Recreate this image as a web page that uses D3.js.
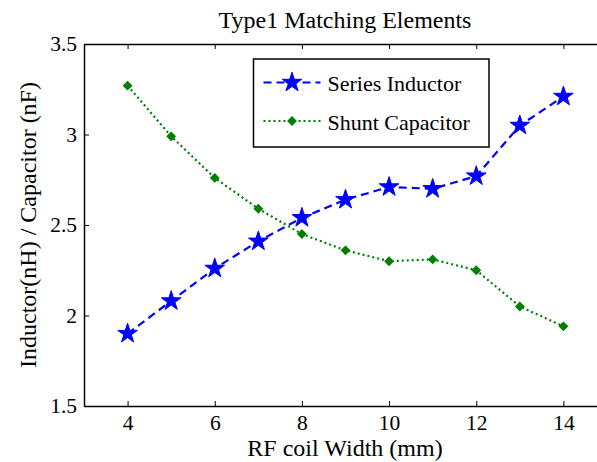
<!DOCTYPE html>
<html>
<head>
<meta charset="utf-8">
<script src="https://cdn.jsdelivr.net/npm/d3@7"></script>
<style>
  body { margin: 0; background: #fff; }
  text { font-family: "Liberation Serif", "Times New Roman", serif; fill: #000; }
</style>
</head>
<body>
<div id="graph1"></div>
<script>
// coil width (mm)
const widths = [4, 5, 6, 7, 8, 9, 10, 11, 12, 13, 14];
const seriesInductor = [1.90, 2.08, 2.26, 2.41, 2.54, 2.64, 2.71, 2.70, 2.77, 3.05, 3.21];
const shuntCapacitor = [3.27, 2.99, 2.76, 2.59, 2.45, 2.36, 2.30, 2.31, 2.25, 2.05, 1.94];
const xTicks = [4, 6, 8, 10, 12, 14];
const yTicks = [1.5, 2, 2.5, 3, 3.5];

const width = 597, height = 462;
const margin = {left: 84, top: 44, right: -10, bottom: 56};

let svg = d3.select("#graph1")
    .append("svg")
    .attr("width", width)
    .attr("height", height);

let x = d3.scaleLinear()
    .domain([3, 15])
    .range([margin.left, width - margin.right]);

let y = d3.scaleLinear()
    .domain([1.5, 3.5])
    .range([height - margin.bottom, margin.top]);

// axes (ticks point inwards like matlab)
let xAxis = svg.append("g")
    .attr("transform", `translate(0,${y(1.5)})`)
    .call(d3.axisBottom(x).tickValues(xTicks).tickSizeInner(-5).tickSizeOuter(0).tickPadding(9));
let xTop = svg.append("g")
    .attr("transform", `translate(0,${y(3.5)})`)
    .call(d3.axisTop(x).tickValues(xTicks).tickSizeInner(-5).tickSizeOuter(0).tickFormat(""));
let yAxis = svg.append("g")
    .attr("transform", `translate(${x(3)},0)`)
    .call(d3.axisLeft(y).tickValues(yTicks).tickSizeInner(-5).tickSizeOuter(0).tickPadding(7).tickFormat(d3.format("")));

[xAxis, xTop, yAxis].forEach(function(g) {
    g.selectAll("path").attr("stroke", "#000").attr("stroke-width", 1.5);
    g.selectAll("line").attr("stroke", "#000");
    g.selectAll("text").style("font-size", "21.5px").style("font-family", "Liberation Serif");
});

// lines
let line = d3.line()
    .x(function(d, i) { return x(widths[i]); })
    .y(function(d) { return y(d); });

svg.append("path")
    .datum(seriesInductor)
    .attr("fill", "none")
    .attr("stroke", "#0000ff")
    .attr("stroke-width", 2.2)
    .attr("stroke-dasharray", "8,5")
    .attr("d", line);

svg.append("path")
    .datum(shuntCapacitor)
    .attr("fill", "none")
    .attr("stroke", "#008000")
    .attr("stroke-width", 2.2)
    .attr("stroke-dasharray", "2,3")
    .attr("d", line);

let star = d3.symbol().type(d3.symbolStar).size(120);
let diamond = d3.symbol().type(d3.symbolSquare).size(30);

svg.append("g").selectAll("path")
    .data(seriesInductor)
    .enter()
    .append("path")
    .attr("d", star)
    .attr("transform", function(d, i) { return `translate(${x(widths[i])},${y(d)})`; })
    .attr("fill", "#0000ff")
    .attr("stroke", "#0000ff")
    .attr("stroke-width", 1);

svg.append("g").selectAll("path")
    .data(shuntCapacitor)
    .enter()
    .append("path")
    .attr("d", diamond)
    .attr("transform", function(d, i) { return `translate(${x(widths[i])},${y(d)}) rotate(45)`; })
    .attr("fill", "#008000")
    .attr("stroke", "#008000")
    .attr("stroke-width", 1.5);

// legend
let legend = svg.append("g").attr("transform", "translate(253.5,59)");
legend.append("rect")
    .attr("width", 235.5)
    .attr("height", 88)
    .attr("fill", "#fff")
    .attr("stroke", "#000")
    .attr("stroke-width", 1.5);

legend.append("line")
    .attr("x1", 10).attr("x2", 67).attr("y1", 23.5).attr("y2", 23.5)
    .attr("stroke", "#0000ff").attr("stroke-width", 2.2).attr("stroke-dasharray", "8,5");
legend.append("path")
    .attr("d", star)
    .attr("transform", "translate(38.5,23.5)")
    .attr("fill", "#0000ff").attr("stroke", "#0000ff");
legend.append("text")
    .attr("x", 74).attr("y", 32)
    .style("font-size", "22px")
    .text("Series Inductor");

legend.append("line")
    .attr("x1", 10).attr("x2", 67).attr("y1", 62).attr("y2", 62)
    .attr("stroke", "#008000").attr("stroke-width", 2.2).attr("stroke-dasharray", "2,3");
legend.append("path")
    .attr("d", diamond)
    .attr("transform", "translate(38.5,62) rotate(45)")
    .attr("fill", "#008000").attr("stroke", "#008000").attr("stroke-width", 1.5);
legend.append("text")
    .attr("x", 74).attr("y", 71)
    .style("font-size", "22px")
    .text("Shunt Capacitor");

// titles
svg.append("text")
    .attr("x", 345)
    .attr("y", 28)
    .style("text-anchor", "middle")
    .style("font-size", "24px")
    .text("Type1 Matching Elements");

svg.append("text")
    .attr("x", 345)
    .attr("y", 456)
    .style("text-anchor", "middle")
    .style("font-size", "24px")
    .text("RF coil Width (mm)");

svg.append("text")
    .attr("transform", `translate(36, ${y(2.5)}) rotate(-90)`)
    .style("text-anchor", "middle")
    .style("font-size", "24px")
    .text("Inductor(nH) / Capacitor (nF)");
</script>
</body>
</html>
